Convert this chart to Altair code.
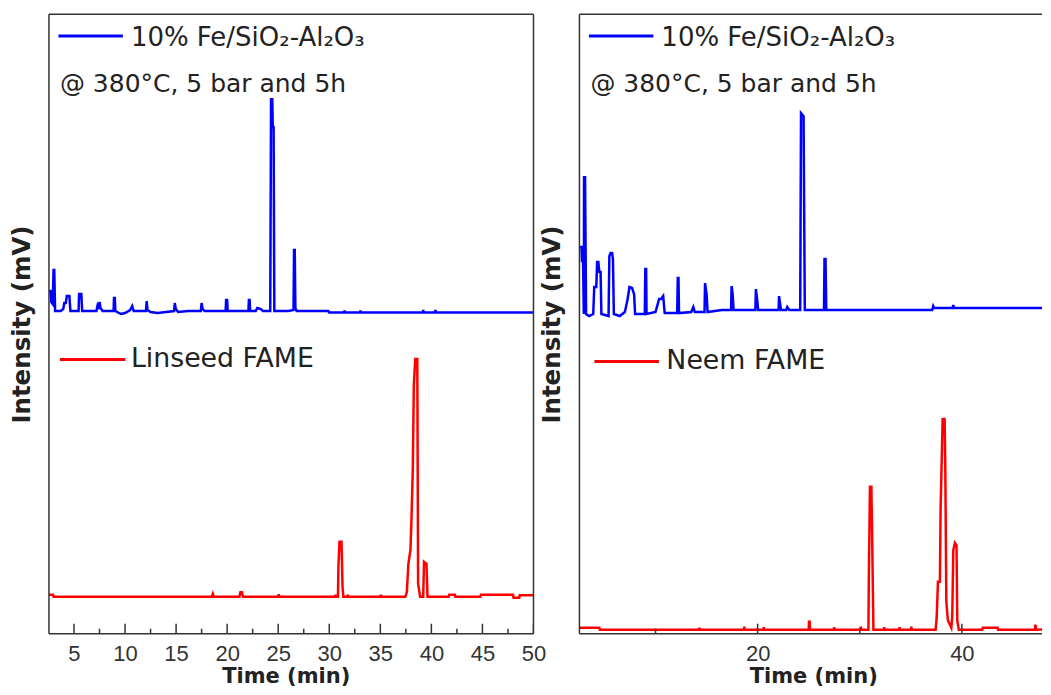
import altair as alt
import pandas as pd

# ---------------- data ----------------
# Left panel, blue trace: 10% Fe/SiO2-Al2O3 product from Linseed FAME
lb_time = [2.55, 2.7, 2.78, 2.92, 3.0, 3.07, 3.15, 3.7, 3.95, 4.05, 4.2, 4.3, 4.55, 4.65, 5.45,
           5.5, 5.72, 5.8, 6.8, 7.2, 7.3, 7.4, 7.5, 7.6, 7.8, 8.88, 8.92, 9.0, 9.05, 9.6, 10.0,
           10.5, 10.7, 10.85, 12.05, 12.12, 12.2, 12.5, 13.2, 14.0, 14.8, 14.87, 14.97, 15.2,
           16.2, 17.42, 17.5, 17.6, 17.8, 19.85, 19.9, 20.0, 20.05, 22.08, 22.13, 22.2, 22.25,
           22.8, 22.95, 23.3, 23.5, 24.22, 24.3, 24.42, 24.47, 24.55, 24.62, 26.0, 26.5, 26.55,
           26.62, 26.68, 26.8, 29.9, 30.0, 31.45, 31.5, 31.55, 33.0, 33.05, 33.1, 39.15, 39.2,
           39.25, 40.35, 40.4, 40.45, 50.0]
lb_int = [343, 343, 332, 330, 364, 364, 323, 323, 325, 331, 331, 338, 338, 323, 323,
          340, 340, 323, 323, 323, 328, 325, 332, 326, 323, 323, 336, 336, 323, 320, 321,
          324, 328, 323, 323, 333, 324, 322, 321, 322, 323, 331, 325, 322,
          323, 323, 331, 325, 323, 323, 334, 334, 323, 323, 334, 334, 323,
          323, 326, 325, 323, 323, 535, 535, 507, 507, 323, 323, 324, 384,
          384, 326, 323, 323, 321.5, 321.5, 323.5, 321.5, 321.5, 323.5, 321.5, 321.5, 324,
          321.5, 321.5, 324, 321.5, 321.5]

# Left panel, red trace: Linseed FAME
lr_time = [2.55, 2.95, 3.0, 18.5, 18.6, 18.7, 21.2, 21.3, 21.45, 21.55, 25.0, 25.05, 25.12,
           30.55, 30.6, 30.65, 30.85, 30.9, 31.0, 31.2, 31.3, 31.38, 31.75, 31.8, 31.85,
           35.0, 35.05, 35.1, 37.45, 37.6, 37.75, 37.95, 38.05, 38.18, 38.28, 38.42, 38.62,
           38.7, 38.9, 39.2, 39.28, 39.52, 39.62, 41.7, 41.75, 42.3, 42.35, 44.8, 44.85,
           48.0, 48.05, 48.6, 48.65, 50.0]
lr_int = [39, 39, 37, 37, 40, 37, 37, 41.5, 41.5, 37, 37, 39.5, 37,
          37, 39, 37, 37, 68, 92, 92, 47, 37, 37, 39, 37,
          37, 39, 37, 37, 42, 70, 84, 114, 164, 249, 275, 275,
          50, 37, 37, 72, 70, 37, 37, 39, 39, 37, 37, 39,
          39, 36, 36, 38.5, 38.5]

# Right panel, blue trace: 10% Fe/SiO2-Al2O3 product from Neem FAME
rb_time = [2.55, 2.75, 2.8, 2.9, 2.98, 3.0, 3.1, 3.2, 3.5, 3.9, 4.0, 4.2, 4.28, 4.4, 4.5, 4.62,
           4.7, 5.4, 5.48, 5.6, 5.75, 5.83, 5.92, 6.5, 7.0, 7.25, 7.45, 7.7, 7.9, 8.0, 8.95,
           9.0, 9.08, 9.12, 10.0, 10.35, 10.55, 10.75, 10.9, 12.12, 12.18, 12.25, 12.3, 13.5,
           13.7, 13.85, 14.8, 14.85, 15.0, 15.1, 16.5, 17.4, 17.45, 17.55, 17.65, 19.78, 19.83,
           19.95, 20.05, 22.05, 22.1, 22.2, 22.3, 22.8, 22.9, 23.1, 24.17, 24.25, 24.5, 24.62,
           26.5, 26.55, 26.65, 26.72, 37.1, 37.2, 37.3, 39.1, 39.16, 39.25, 50.0]
rb_int = [387, 387, 373, 373, 320, 457, 457, 320, 318, 320, 347, 347, 372, 372, 362, 362,
          320, 318, 378, 381, 381, 375, 320, 318, 322, 334, 347, 346, 340, 320, 320,
          365, 365, 320, 322, 335, 335, 338, 321, 321, 356, 356, 321, 322,
          327, 322, 322, 351, 340, 322, 324, 324, 348, 340, 324, 324, 345,
          335, 324, 324, 338, 330, 324, 324, 327, 324, 324, 521, 518, 324,
          324, 375, 375, 324, 324, 328, 326, 326, 329, 326, 326]

# Right panel, red trace: Neem FAME
rr_time = [2.55, 4.5, 4.55, 14.25, 14.3, 14.35, 18.65, 18.7, 18.75, 20.55, 20.6, 20.65,
           25.0, 25.03, 25.1, 25.13, 27.45, 27.5, 27.55, 30.05, 30.1, 30.15, 30.85, 30.9,
           31.0, 31.14, 31.24, 31.34, 32.35, 32.4, 32.45, 33.85, 33.9, 33.95, 35.0, 35.05,
           35.1, 37.43, 37.53, 37.66, 37.85, 37.92, 38.12, 38.31, 38.38, 38.48, 38.63, 38.97,
           39.06, 39.16, 39.32, 39.48, 39.55, 39.7, 42.0, 42.05, 43.5, 43.55, 47.15, 47.2,
           47.28, 50.0]
rr_int = [6, 6, 4, 4, 6, 4, 4, 7, 4, 4, 6.5, 4,
          4, 12, 12, 4, 4, 6.5, 4, 4, 7, 4, 4, 65,
          147, 147, 79, 4, 4, 6.5, 4, 4, 6.5, 4, 4, 7,
          4, 4, 15, 52, 52, 125, 215, 215, 165, 32, 13.5, 6,
          16.5, 83.5, 91, 88.5, 13.5, 4, 4, 6, 6, 4, 4, 9,
          4, 5]

left_labels = [5, 10, 15, 20, 25, 30, 35, 40, 45, 50]
left_minor = [7.5, 12.5, 17.5, 22.5, 27.5, 32.5, 37.5, 42.5, 47.5]
right_labels = [20, 40]
right_minor = [10, 30]

blue_label = "10% Fe/SiO₂-Al₂O₃"
cond_label = "@ 380°C, 5 bar and 5h"
left_red_label = "Linseed FAME"
right_red_label = "Neem FAME"

# ---------------- styling ----------------
H = 620
BLUE = "#0000FF"
RED = "#FF0000"
DARK = "#333333"
TXT = "#222222"
TEXT_FONT = "DejaVu Sans"
TICK_FONT = "Liberation Sans"


def panel(width, xmax, b_t, b_v, r_t, r_v, labels, minor, red_label, red_line, red_text,
          right_border, title_x):
    xs = alt.Scale(domain=[2.55, xmax], nice=False, zero=False)
    ys = alt.Scale(domain=[0, 620], nice=False, zero=False)
    x_enc = alt.X(
        "t:Q", scale=xs,
        axis=alt.Axis(values=labels, format="d", title="Time (min)", ticks=False, domain=False,
                      grid=False, labelFlush=False, labelFont=TICK_FONT, labelFontSize=22,
                      labelColor=DARK, labelPadding=9.5, titleFont=TEXT_FONT, titleFontSize=21,
                      titleFontWeight="bold", titleColor=TXT, titlePadding=1, titleX=title_x))
    y_enc = alt.Y(
        "v:Q", scale=ys,
        axis=alt.Axis(labels=False, ticks=False, domain=False, grid=False,
                      title="Intensity (mV)", titleFont=TEXT_FONT, titleFontSize=24.5,
                      titleFontWeight="bold", titleColor=TXT, titlePadding=14.5))

    blue = alt.Chart(pd.DataFrame({"t": b_t, "v": b_v})).mark_line(
        color=BLUE, strokeWidth=2.5, clip=True).encode(x=x_enc, y=y_enc)
    red = alt.Chart(pd.DataFrame({"t": r_t, "v": r_v})).mark_line(
        color=RED, strokeWidth=2.5, clip=True).encode(x=x_enc, y=y_enc)

    major_ticks = alt.Chart(pd.DataFrame({"t": labels})).mark_rule(
        color=DARK, strokeWidth=1.5, clip=True).encode(x=x_enc, y=alt.value(H), y2=alt.value(H - 10))
    minor_ticks = alt.Chart(pd.DataFrame({"t": minor})).mark_rule(
        color=DARK, strokeWidth=1.5, clip=True).encode(x=x_enc, y=alt.value(H), y2=alt.value(H - 5))

    one = pd.DataFrame({"a": [0]})
    frame = [
        alt.Chart(one).mark_rule(color=DARK, strokeWidth=1.5).encode(
            x=alt.value(0), x2=alt.value(width), y=alt.value(0)),
        alt.Chart(one).mark_rule(color=DARK, strokeWidth=1.5).encode(
            x=alt.value(0), x2=alt.value(width), y=alt.value(H)),
        alt.Chart(one).mark_rule(color=DARK, strokeWidth=1.5).encode(
            x=alt.value(0), y=alt.value(0), y2=alt.value(H)),
    ]
    if right_border:
        frame.append(alt.Chart(one).mark_rule(color=DARK, strokeWidth=1.5).encode(
            x=alt.value(width), y=alt.value(0), y2=alt.value(H)))

    blue_sample = alt.Chart(one).mark_rule(color=BLUE, strokeWidth=3).encode(
        x=alt.value(9.5), x2=alt.value(74), y=alt.value(21.7))
    blue_text = alt.Chart(one).mark_text(
        align="left", baseline="alphabetic", font=TEXT_FONT, fontSize=26, color=TXT).encode(
        x=alt.value(82), y=alt.value(31.7), text=alt.value(blue_label))
    cond_text = alt.Chart(one).mark_text(
        align="left", baseline="alphabetic", font=TEXT_FONT, fontSize=25, color=TXT).encode(
        x=alt.value(11), y=alt.value(77.4), text=alt.value(cond_label))
    red_sample = alt.Chart(one).mark_rule(color=RED, strokeWidth=3).encode(
        x=alt.value(red_line[0]), x2=alt.value(red_line[1]), y=alt.value(red_line[2]))
    red_txt = alt.Chart(one).mark_text(
        align="left", baseline="alphabetic", font=TEXT_FONT, fontSize=26.8, color=TXT).encode(
        x=alt.value(red_text[0]), y=alt.value(red_text[1]), text=alt.value(red_label))

    return alt.layer(blue, red, major_ticks, minor_ticks, *frame, blue_sample, blue_text,
                     cond_text, red_sample, red_txt).properties(width=width, height=H)


left = panel(485, 50, lb_time, lb_int, lr_time, lr_int, left_labels, left_minor,
             left_red_label, (11, 76.5, 345.5), (82, 353.5), True, 237)
right = panel(463, 47.85, rb_time, rb_int, rr_time, rr_int, right_labels, right_minor,
              right_red_label, (15, 79.5, 347.4), (87, 355), False, 234)

chart = alt.hconcat(left, right, spacing=46, bounds="flush").properties(
    padding={"left": 1, "top": 5, "right": 0, "bottom": 0},
    background="white",
).configure_view(strokeWidth=0, stroke="transparent")

chart.save("out.html", embed_options={"renderer": "svg", "actions": False})
